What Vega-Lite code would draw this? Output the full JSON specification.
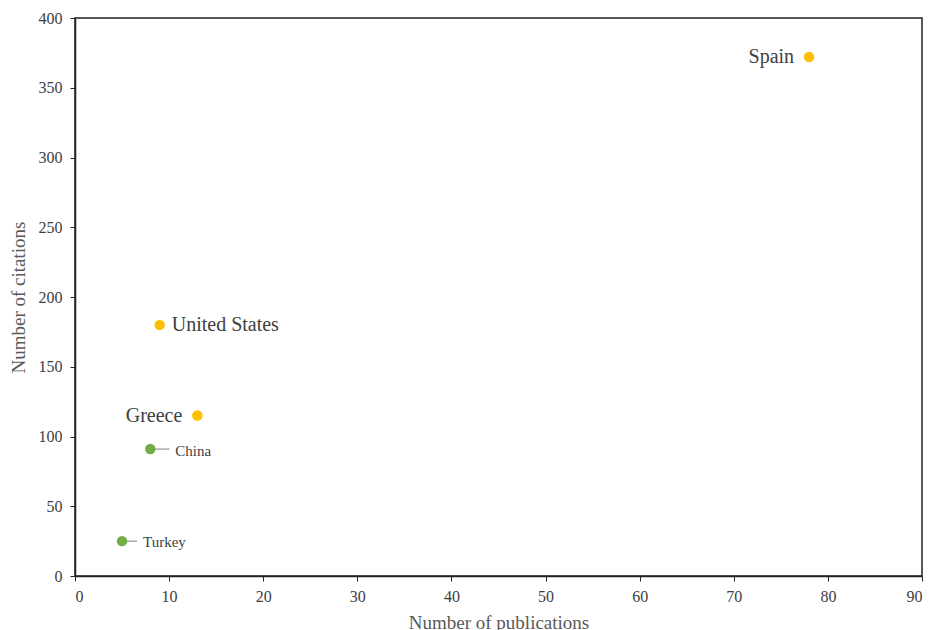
{
  "$schema": "https://vega.github.io/schema/vega-lite/v6.json",
  "width": 847,
  "height": 558,
  "autosize": {"type": "none"},
  "padding": {"left": 75, "top": 18, "right": 10, "bottom": 54},
  "background": "white",
  "config": {
    "font": "Liberation Serif",
    "view": {"stroke": "#222222", "strokeWidth": 1.5},
    "axis": {
      "grid": false,
      "domainColor": "#222222",
      "domainWidth": 1.5,
      "tickColor": "#222222",
      "tickSize": 5,
      "labelFont": "Liberation Serif",
      "labelFontSize": 16,
      "labelColor": "#404040",
      "titleFont": "Liberation Serif",
      "titleFontSize": 19,
      "titleFontWeight": "normal",
      "titleColor": "#595959"
    }
  },
  "data": {
    "values": [
      {"country": "Spain", "publications": 78, "citations": 372, "cluster": "A"},
      {"country": "United States", "publications": 9, "citations": 180, "cluster": "A"},
      {"country": "Greece", "publications": 13, "citations": 115, "cluster": "A"},
      {"country": "China", "publications": 8, "citations": 91, "cluster": "B"},
      {"country": "Turkey", "publications": 5, "citations": 25, "cluster": "B"}
    ]
  },
  "encoding": {
    "x": {
      "field": "publications",
      "type": "quantitative",
      "title": "Number of publications",
      "scale": {"domain": [0, 90], "nice": false},
      "axis": {"values": [0, 10, 20, 30, 40, 50, 60, 70, 80, 90], "labelPadding": 7, "titlePadding": 9}
    },
    "y": {
      "field": "citations",
      "type": "quantitative",
      "title": "Number of citations",
      "scale": {"domain": [0, 400], "nice": false},
      "axis": {"values": [0, 50, 100, 150, 200, 250, 300, 350, 400], "labelPadding": 8, "titlePadding": 10}
    }
  },
  "layer": [
    {
      "transform": [{"filter": "datum.country == 'China'"}],
      "mark": {"type": "rule", "color": "#808080", "strokeWidth": 1, "x2Offset": 19},
      "encoding": {"x2": {"field": "publications"}}
    },
    {
      "transform": [{"filter": "datum.country == 'Turkey'"}],
      "mark": {"type": "rule", "color": "#808080", "strokeWidth": 1, "x2Offset": 15},
      "encoding": {"x2": {"field": "publications"}}
    },
    {
      "mark": {"type": "circle", "size": 110, "opacity": 1},
      "encoding": {
        "color": {
          "field": "cluster",
          "type": "nominal",
          "scale": {"domain": ["A", "B"], "range": ["#FFC000", "#70AD47"]},
          "legend": null
        }
      }
    },
    {
      "transform": [{"filter": "datum.country == 'Spain' || datum.country == 'Greece'"}],
      "mark": {"type": "text", "align": "right", "baseline": "middle", "dx": -15, "fontSize": 20, "color": "#404040"},
      "encoding": {"text": {"field": "country"}}
    },
    {
      "transform": [{"filter": "datum.country == 'United States'"}],
      "mark": {"type": "text", "align": "left", "baseline": "middle", "dx": 12, "fontSize": 20, "color": "#404040"},
      "encoding": {"text": {"field": "country"}}
    },
    {
      "transform": [{"filter": "datum.country == 'China'"}],
      "mark": {"type": "text", "align": "left", "baseline": "middle", "dx": 25, "dy": 2, "fontSize": 15, "color": "#404040"},
      "encoding": {"text": {"field": "country"}}
    },
    {
      "transform": [{"filter": "datum.country == 'Turkey'"}],
      "mark": {"type": "text", "align": "left", "baseline": "middle", "dx": 21, "dy": 1, "fontSize": 15, "color": "#404040"},
      "encoding": {"text": {"field": "country"}}
    }
  ]
}
